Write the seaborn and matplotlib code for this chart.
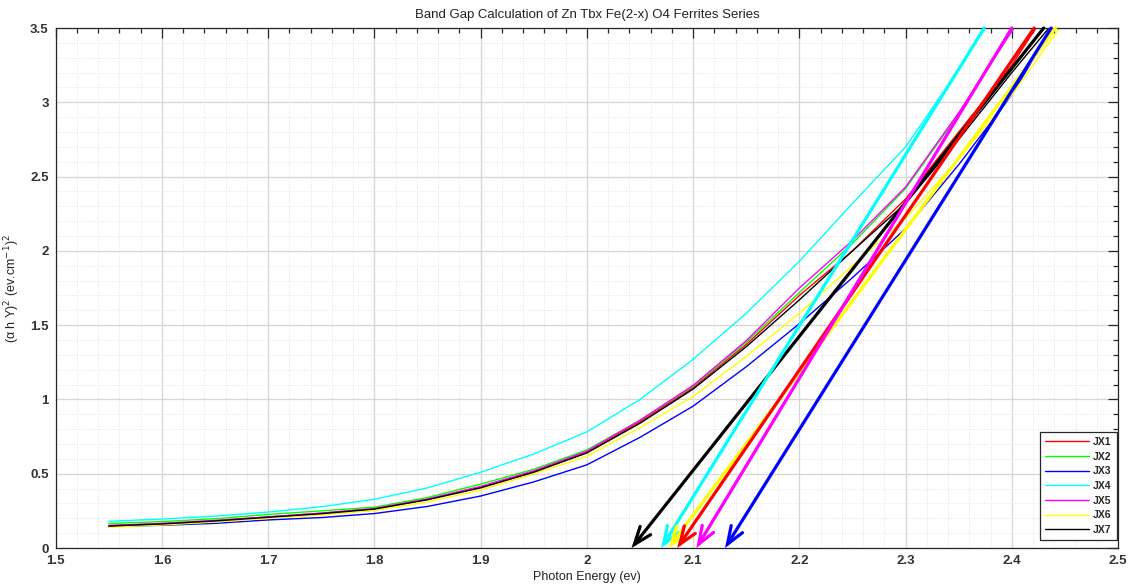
import numpy as np
import pandas as pd
import matplotlib
matplotlib.use('Agg')
import matplotlib.pyplot as plt
import seaborn as sns
from matplotlib.ticker import MultipleLocator, FormatStrFormatter

# photon energy grid (eV)
energy = [1.55, 1.60, 1.65, 1.70, 1.75, 1.80, 1.85, 1.90, 1.95, 2.00,
          2.05, 2.10, 2.15, 2.20, 2.25, 2.30, 2.35, 2.40, 2.45]

# (alpha h nu)^2 for each sample
jx1 = [0.150, 0.164, 0.184, 0.209, 0.234, 0.265, 0.328, 0.410, 0.515, 0.645,
       0.850, 1.080, 1.370, 1.700, 2.000, 2.350, 2.800, 3.250, 3.800]
jx2 = [0.165, 0.178, 0.197, 0.226, 0.250, 0.275, 0.340, 0.430, 0.530, 0.660,
       0.860, 1.090, 1.385, 1.720, 2.050, 2.420, 2.920, 3.480, 4.000]
jx3 = [0.145, 0.153, 0.166, 0.189, 0.205, 0.232, 0.280, 0.350, 0.445, 0.560,
       0.745, 0.955, 1.220, 1.510, 1.820, 2.150, 2.580, 3.050, 3.650]
jx4 = [0.180, 0.195, 0.215, 0.242, 0.278, 0.328, 0.405, 0.510, 0.633, 0.782,
       1.000, 1.270, 1.580, 1.930, 2.320, 2.700, 3.220, 3.780, 4.350]
jx5 = [0.152, 0.166, 0.186, 0.210, 0.235, 0.266, 0.330, 0.415, 0.520, 0.652,
       0.860, 1.095, 1.395, 1.750, 2.070, 2.430, 2.930, 3.480, 4.050]
jx6 = [0.140, 0.155, 0.175, 0.200, 0.222, 0.252, 0.310, 0.390, 0.498, 0.618,
       0.810, 1.020, 1.290, 1.580, 1.900, 2.220, 2.620, 3.050, 3.550]
jx7 = [0.148, 0.162, 0.182, 0.207, 0.231, 0.262, 0.325, 0.405, 0.510, 0.640,
       0.840, 1.070, 1.355, 1.670, 2.000, 2.320, 2.750, 3.200, 3.630]

samples = ['JX1', 'JX2', 'JX3', 'JX4', 'JX5', 'JX6', 'JX7']
colors = ['#ff0000', '#00ff00', '#0000ff', '#00ffff', '#ff00ff', '#ffff00', '#000000']

# tangent (Tauc) lines: band gap where they hit the axis, and their upper end
fit_samples = ['JX7', 'JX4', 'JX6', 'JX1', 'JX5', 'JX3']
fit_gap = [2.042, 2.070, 2.077, 2.085, 2.103, 2.130]
fit_top_x = [2.430, 2.374, 2.441, 2.421, 2.400, 2.437]
fit_top_y = [3.5, 3.5, 3.5, 3.5, 3.5, 3.5]

series = [jx1, jx2, jx3, jx4, jx5, jx6, jx7]
df = pd.concat([pd.DataFrame({'energy': energy, 'value': v, 'sample': s})
                for s, v in zip(samples, series)], ignore_index=True)
palette = dict(zip(samples, colors))

sns.set_style('white')
plt.rcParams['font.family'] = ['Liberation Sans', 'DejaVu Sans']

fig = plt.figure(figsize=(11.28, 5.86), dpi=100)
ax = fig.add_axes([0.0494, 0.0648, 0.9418, 0.8874])

sns.lineplot(data=df, x='energy', y='value', hue='sample', palette=palette,
             estimator=None, sort=False, lw=1.0, ax=ax)

for s, g, tx, ty in zip(fit_samples, fit_gap, fit_top_x, fit_top_y):
    ax.annotate('', xy=(g, 0), xytext=(tx, ty), annotation_clip=False,
                arrowprops=dict(arrowstyle='->,head_length=0.8,head_width=0.3',
                                color=palette[s], lw=2.3, shrinkA=0, shrinkB=0,
                                mutation_scale=16, joinstyle='miter'))

ax.set_xlim(1.5, 2.5)
ax.set_ylim(0, 3.5)
ax.xaxis.set_major_locator(MultipleLocator(0.1))
ax.xaxis.set_minor_locator(MultipleLocator(0.02))
ax.yaxis.set_major_locator(MultipleLocator(0.5))
ax.yaxis.set_minor_locator(MultipleLocator(0.1))
ax.xaxis.set_major_formatter(FormatStrFormatter('%g'))
ax.yaxis.set_major_formatter(FormatStrFormatter('%g'))

ax.grid(which='major', color='#d6d6d6', lw=0.9, ls='-')
ax.grid(which='minor', color='#e2e2e2', lw=0.7, ls=':')
ax.set_axisbelow(True)

ax.tick_params(which='both', direction='in', top=True, right=True,
               color='#262626', width=0.9)
ax.tick_params(which='major', length=7, pad=5)
ax.tick_params(which='minor', length=3.5)
for lab in ax.get_xticklabels() + ax.get_yticklabels():
    lab.set_fontsize(9.5)
    lab.set_fontweight('bold')
    lab.set_color('#333333')
for sp in ax.spines.values():
    sp.set_color('#262626')
    sp.set_linewidth(0.9)

ax.set_title('Band Gap Calculation of Zn Tbx Fe(2-x) O4 Ferrites Series',
             fontsize=9.5, color='#222222', pad=7)
ax.set_xlabel('Photon Energy (ev)', fontsize=9, color='#222222', labelpad=3)
ax.set_ylabel('(α h Υ)$^2$ (ev.cm$^{-1}$)$^2$', fontsize=9, color='#222222', labelpad=6)

h, l = ax.get_legend_handles_labels()
leg = ax.legend(h, l, loc='lower right', bbox_to_anchor=(0.999, 0.015),
                borderaxespad=0, fancybox=False, framealpha=1, edgecolor='#262626',
                prop={'size': 7.5, 'weight': 'bold'}, handlelength=4.2,
                labelspacing=0.45, handletextpad=0.4, borderpad=0.5)
leg.get_frame().set_linewidth(0.9)

fig.savefig('out.png', dpi=100)
